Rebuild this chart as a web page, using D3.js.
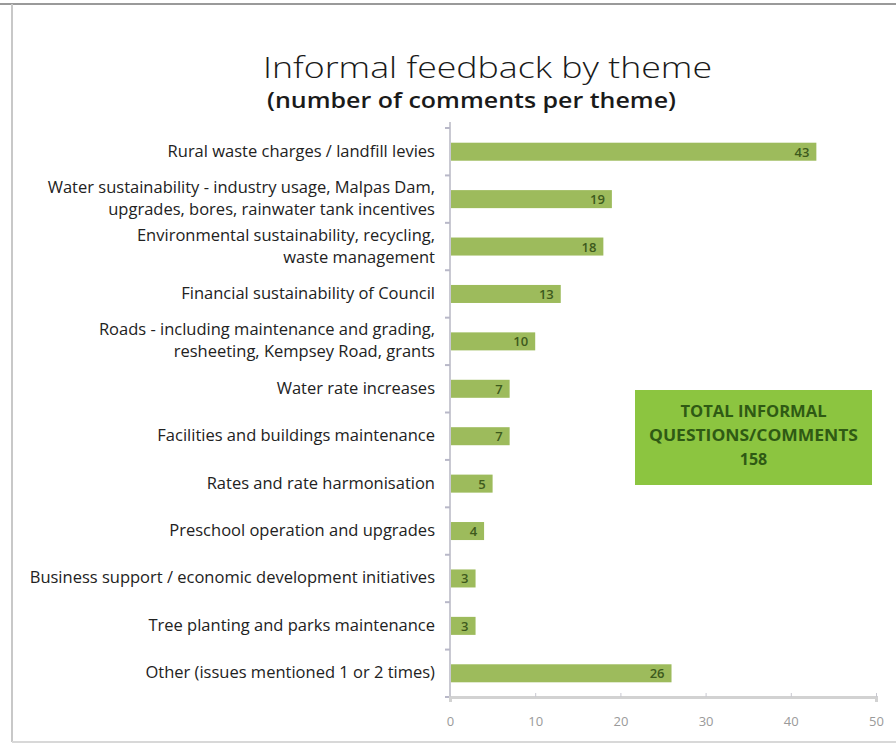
<!DOCTYPE html>
<html>
<head>
<meta charset="utf-8">
<script src="https://cdn.jsdelivr.net/npm/d3@7/dist/d3.min.js"></script>
<style>
  html, body { margin: 0; padding: 0; background: #fff; }
  svg { display: block; }
</style>
</head>
<body>
<div id="chart"></div>
<script>
// Informal feedback by theme — horizontal bar chart

const THEMES = [
  ['Rural waste charges / landfill levies'],
  ['Water sustainability - industry usage, Malpas Dam,', 'upgrades, bores, rainwater tank incentives'],
  ['Environmental sustainability, recycling,', 'waste management'],
  ['Financial sustainability of Council'],
  ['Roads - including maintenance and grading,', 'resheeting, Kempsey Road, grants'],
  ['Water rate increases'],
  ['Facilities and buildings maintenance'],
  ['Rates and rate harmonisation'],
  ['Preschool operation and upgrades'],
  ['Business support / economic development initiatives'],
  ['Tree planting and parks maintenance'],
  ['Other (issues mentioned 1 or 2 times)'],
]
const COUNTS = [43, 19, 18, 13, 10, 7, 7, 5, 4, 3, 3, 26]
const X_TICKS = [0, 10, 20, 30, 40, 50]
const TOTAL_LINES = ['TOTAL INFORMAL', 'QUESTIONS/COMMENTS', '158']

const W = 896, H = 744
const FONT = '"Open Sans", Lato, sans-serif'
const BAR_COLOR = '#9dbb5c'

const svg = d3.select('#chart').append('svg')
  .attr('width', W).attr('height', H)

// frame
svg.append('line').attr('x1', 0).attr('x2', W).attr('y1', 4).attr('y2', 4)
  .attr('stroke', '#9a9a9a').attr('stroke-width', 2)
svg.append('line').attr('x1', 12).attr('x2', 12).attr('y1', 4).attr('y2', 742)
  .attr('stroke', '#c8c8c8').attr('stroke-width', 2)
svg.append('line').attr('x1', 12).attr('x2', W).attr('y1', 742).attr('y2', 742)
  .attr('stroke', '#d8d8d8').attr('stroke-width', 2)

// titles
svg.append('text')
  .attr('x', 263).attr('y', 78)
  .attr('textLength', 449).attr('lengthAdjust', 'spacingAndGlyphs')
  .attr('font-family', FONT).attr('font-weight', 300)
  .attr('font-size', '29px').attr('fill', '#1a1a1a')
  .text('Informal feedback by theme')
svg.append('text')
  .attr('x', 267).attr('y', 108)
  .attr('textLength', 409).attr('lengthAdjust', 'spacingAndGlyphs')
  .attr('font-family', FONT).attr('font-weight', 600)
  .attr('font-size', '21px').attr('fill', '#1a1a1a')
  .text('(number of comments per theme)')

const x = d3.scaleLinear().domain([0, 50]).range([450, 876])
const y = d3.scaleBand()
  .domain(d3.range(THEMES.length))
  .range([128, 697])
  .paddingInner(0.62).paddingOuter(0.31)

// y axis line + ticks between categories
const step = y.step()
const boundaries = d3.range(THEMES.length + 1).map(i => 128 + i * step)
svg.append('line')
  .attr('x1', x(0)).attr('x2', x(0)).attr('y1', 122).attr('y2', 697)
  .attr('stroke', '#c9c9d2').attr('stroke-width', 2)
svg.append('g').selectAll('line')
  .data(boundaries)
  .join('line')
  .attr('x1', x(0) - 5).attr('x2', x(0))
  .attr('y1', d => d).attr('y2', d => d)
  .attr('stroke', '#b8b8c8').attr('stroke-width', 2)

// x axis
svg.append('g')
  .attr('transform', `translate(0,697)`)
  .call(d3.axisBottom(x).tickValues(X_TICKS).tickSize(5).tickPadding(15))
  .call(g => {
    g.select('.domain').attr('stroke', '#d2d2d2').attr('stroke-width', 3)
    g.selectAll('.tick line').attr('stroke', '#c8c8d0').attr('y1', -4).attr('y2', 0)
    g.selectAll('.tick text')
      .attr('fill', '#9a9a9a').attr('font-size', '13px')
      .attr('font-family', FONT)
  })

// bars
svg.append('g').selectAll('rect')
  .data(COUNTS)
  .join('rect')
  .attr('x', x(0) + 1)
  .attr('y', (d, i) => y(i))
  .attr('width', d => x(d) - x(0) - 1)
  .attr('height', y.bandwidth())
  .attr('fill', BAR_COLOR)

// value labels
svg.append('g').selectAll('text')
  .data(COUNTS)
  .join('text')
  .attr('x', d => x(d) - 7)
  .attr('y', (d, i) => y(i) + y.bandwidth() / 2 + 5)
  .attr('text-anchor', 'end')
  .attr('font-family', FONT).attr('font-size', '13px').attr('font-weight', 600)
  .attr('fill', '#3d5a1c')
  .text(d => d)

// category labels
const lineH = 22
svg.append('g').selectAll('text')
  .data(THEMES)
  .join('text')
  .attr('text-anchor', 'end')
  .attr('font-family', FONT).attr('font-size', '16.5px')
  .attr('fill', '#222')
  .each(function (lines, i) {
    const cy = y(i) + y.bandwidth() / 2
    const top = cy - (lines.length - 1) * lineH / 2 + 5
    d3.select(this).selectAll('tspan')
      .data(lines)
      .join('tspan')
      .attr('x', 435)
      .attr('y', (l, j) => top + j * lineH)
      .text(l => l)
  })

// total box
const boxW = 237, boxH = 95
const lineWidths = [146, 209, null]
const box = svg.append('g').attr('transform', 'translate(635,390)')
box.append('rect')
  .attr('width', boxW).attr('height', boxH)
  .attr('fill', '#8cc540')
box.selectAll('text')
  .data(TOTAL_LINES)
  .join('text')
  .attr('x', (d, i) => lineWidths[i] ? (boxW - lineWidths[i]) / 2 : boxW / 2)
  .attr('y', (d, i) => 27 + i * 24)
  .attr('text-anchor', (d, i) => lineWidths[i] ? 'start' : 'middle')
  .attr('textLength', (d, i) => lineWidths[i])
  .attr('lengthAdjust', 'spacingAndGlyphs')
  .attr('font-family', FONT).attr('font-weight', 700)
  .attr('font-size', '16px').attr('fill', '#2f5a14')
  .text(d => d)
</script>
</body>
</html>
